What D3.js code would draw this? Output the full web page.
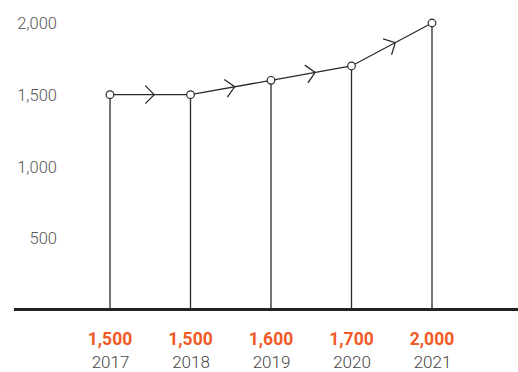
<!DOCTYPE html>
<html><head><meta charset="utf-8">
<script src="https://cdn.jsdelivr.net/npm/d3@7"></script>
<style>
html,body{margin:0;padding:0;background:#fff;}
svg{display:block;}
</style></head>
<body>
<svg id="chart" width="518" height="372"></svg>
<script>
const years = ["2017","2018","2019","2020","2021"];
const values = [1500, 1500, 1600, 1700, 2000];
const yTicks = [500, 1000, 1500, 2000];

const svg = d3.select("#chart");
const x = d3.scalePoint().domain(years).range([110, 432]);
const y = d3.scaleLinear().domain([0, 2000]).range([309.5, 23]);
const fmt = d3.format(",");
const dark = "#2b2b2b";

// y axis labels (no line)
const yAxis = d3.axisLeft(y).tickValues(yTicks).tickFormat(fmt).tickSize(0).tickPadding(0);
const gy = svg.append("g").attr("transform", "translate(57,0)").call(yAxis);
gy.select(".domain").remove();
gy.selectAll("text").attr("font-family", "Roboto").attr("font-weight", 300)
  .attr("font-size", 16.5).attr("fill", "#555").attr("dy", "0.35em");

// vertical drop lines
svg.append("g").selectAll("line").data(values).join("line")
  .attr("x1", (d, i) => x(years[i])).attr("x2", (d, i) => x(years[i]))
  .attr("y1", d => y(d)).attr("y2", y(0))
  .attr("stroke", dark).attr("stroke-width", 1.3);

// baseline
svg.append("line").attr("x1", 14).attr("x2", 518).attr("y1", y(0)).attr("y2", y(0))
  .attr("stroke", "#222").attr("stroke-width", 3);

// connecting line
const pts = values.map((v, i) => [x(years[i]), y(v)]);
svg.append("path").attr("d", d3.line()(pts)).attr("fill", "none")
  .attr("stroke", dark).attr("stroke-width", 1.3);

// chevrons at segment midpoints
const segs = d3.pairs(pts);
svg.append("g").selectAll("path").data(segs).join("path")
  .attr("transform", ([a, b]) => {
    const ang = Math.atan2(b[1] - a[1], b[0] - a[0]) * 180 / Math.PI;
    const mx = (a[0] + b[0]) / 2, my = (a[1] + b[1]) / 2;
    return `translate(${mx},${my}) rotate(${ang}) translate(4,0)`;
  })
  .attr("d", "M-9,-9L0,0L-9,9")
  .attr("fill", "none").attr("stroke", dark).attr("stroke-width", 1.3);

// points
svg.append("g").selectAll("circle").data(pts).join("circle")
  .attr("cx", d => d[0]).attr("cy", d => d[1]).attr("r", 3.8)
  .attr("fill", "#fff").attr("stroke", dark).attr("stroke-width", 1.2);

// x labels: years
const xAxis = d3.axisBottom(x).tickSize(0).tickPadding(0);
const gx = svg.append("g").attr("transform", "translate(0,368)").call(xAxis);
gx.select(".domain").remove();
gx.selectAll("text").attr("font-family", "Roboto").attr("font-weight", 300)
  .attr("font-size", 17).attr("fill", "#444").attr("dy", "0").attr("y", 0);

// values (orange)
svg.append("g").selectAll("text").data(values).join("text")
  .attr("x", (d, i) => x(years[i])).attr("y", 345)
  .attr("text-anchor", "middle").attr("font-family", "Roboto").attr("font-weight", 700)
  .attr("font-size", 17.5).attr("fill", "#f15a24")
  .text(d => fmt(d));
</script>
</body></html>
